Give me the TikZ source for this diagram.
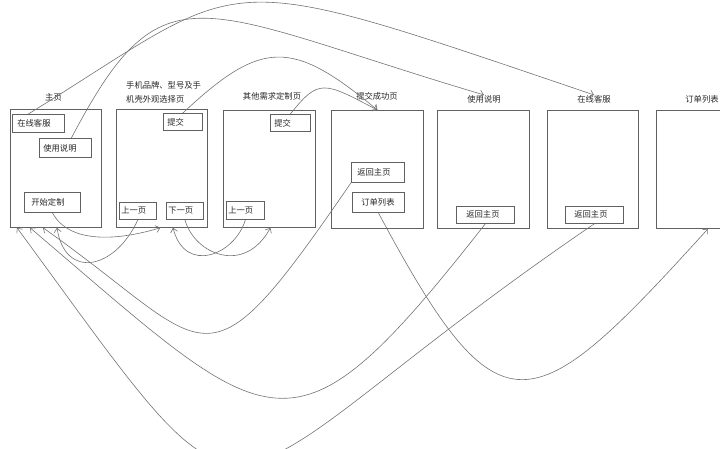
\documentclass[tikz,border=0pt]{standalone}
\usepackage{fontspec}
\newfontfamily\cjk{Noto Sans CJK SC}
\usetikzlibrary{arrows.meta}
\begin{document}
\begin{tikzpicture}[x=1pt,y=-1pt,
  page/.style={draw=black!62, line width=0.75pt, inner sep=0pt, anchor=north west},
  btn/.style={draw=black!62, line width=0.75pt, anchor=north west, inner ysep=0pt, align=left,
              text=black!85, font=\cjk\fontsize{8.3}{10}\selectfont},
  ttl/.style={inner sep=0pt, text=black!85, font=\cjk\fontsize{8.3}{10}\selectfont},
  conn/.style={draw=black!55, line width=0.6pt, -{Straight Barb[length=4pt,width=7pt]}},
  link/.style={draw=black!55, line width=0.6pt}
]
\useasboundingbox (0,0) rectangle (720,449);
\clip (0,0) rectangle (720,449);

% pages
\node[page, minimum width=91pt, minimum height=118pt] (p1) at (10,109) {};
\node[page, minimum width=91pt, minimum height=118pt] (p2) at (116,109) {};
\node[page, minimum width=92pt, minimum height=117pt] (p3) at (223,110) {};
\node[page, minimum width=92pt, minimum height=118pt] (p4) at (331,110) {};
\node[page, minimum width=92pt, minimum height=118pt] (p5) at (437,110) {};
\node[page, minimum width=91pt, minimum height=118pt] (p6) at (547,110) {};
\node[page, minimum width=91pt, minimum height=118pt] (p7) at (656,110) {};

% titles
\node[ttl] (t1) at (53.5,97) {主页};
\node[ttl, anchor=west, align=left, font=\cjk\fontsize{8.3}{14}\selectfont] (t2) at (126,92) {手机品牌、型号及手\\机壳外观选择页};
\node[ttl] (t3) at (272,96) {其他需求定制页};
\node[ttl] (t4) at (377,96) {提交成功页};
\node[ttl] (t5) at (484,99) {使用说明};
\node[ttl] (t6) at (594,99) {在线客服};
\node[ttl] (t7) at (702,99) {订单列表};

% buttons
\node[btn, inner xsep=5pt, text width=42pt, minimum height=18pt] (b1) at (12,114) {在线客服};
\node[btn, inner xsep=4pt, text width=44pt, minimum height=19pt] (b2) at (39,138) {使用说明};
\node[btn, inner xsep=7pt, text width=42pt, minimum height=20pt] (b3) at (24,192) {开始定制};
\node[btn, inner xsep=4pt, text width=31pt, minimum height=17pt] (b4) at (163,113) {提交};
\node[btn, inner xsep=2pt, text width=33pt, minimum height=17pt] (b5) at (119,202) {上一页};
\node[btn, inner xsep=2pt, text width=33pt, minimum height=17pt] (b6) at (166,202) {下一页};
\node[btn, inner xsep=4pt, text width=32pt, minimum height=17pt] (b7) at (270,114) {提交};
\node[btn, inner xsep=2pt, text width=34pt, minimum height=18pt] (b8) at (226,201) {上一页};
\node[btn, inner xsep=6pt, text width=41pt, minimum height=20pt] (b9) at (351,162) {返回主页};
\node[btn, inner xsep=9pt, text width=34pt, minimum height=20pt] (b10) at (352,192) {订单列表};
\node[btn, inner xsep=10pt, text width=38pt, minimum height=17pt] (b11) at (456,206) {返回主页};
\node[btn, inner xsep=9pt, text width=40pt, minimum height=17pt] (b12) at (565,206) {返回主页};

% connectors
\draw[conn] ([xshift=-10pt]b1.north) .. controls (255,-26) and (205,-37) .. (t6.north);
\draw[conn] ([xshift=6pt]b2.north) .. controls (164,-38) and (195,9) .. (t5.north);
\draw[conn] (b4.north) .. controls (262,39) and (292,39) .. (p4.north);
\draw[conn] (b7.north) .. controls (319,78) and (324,82) .. (p4.north);
\draw[conn] (b3.south) .. controls (70,245) and (120,240) .. ([xshift=-1.5pt]p2.south);
\draw[conn] (b5.south) .. controls (115,270) and (65,280) .. ([xshift=47pt]p1.south west);
\draw[conn] (b6.south) .. controls (195,255) and (245,275) .. ([xshift=1pt]p3.south);
\draw[conn] (b8.south) .. controls (235,255) and (185,275) .. ([xshift=57pt]p2.south west);
\draw[conn] (b9.south west) .. controls (200,403) and (215,349) .. ([xshift=33pt]p1.south west);
\draw[conn] (b11.south) .. controls (289,474) and (276,437) .. ([xshift=20pt]p1.south west);
\draw[conn] (b12.south) .. controls (187,501) and (276,581) .. ([xshift=7pt]p1.south west);
\draw[conn] (b10.south) .. controls (500,440) and (530,425) .. ([xshift=52pt]p7.south west);
\end{tikzpicture}
\end{document}
